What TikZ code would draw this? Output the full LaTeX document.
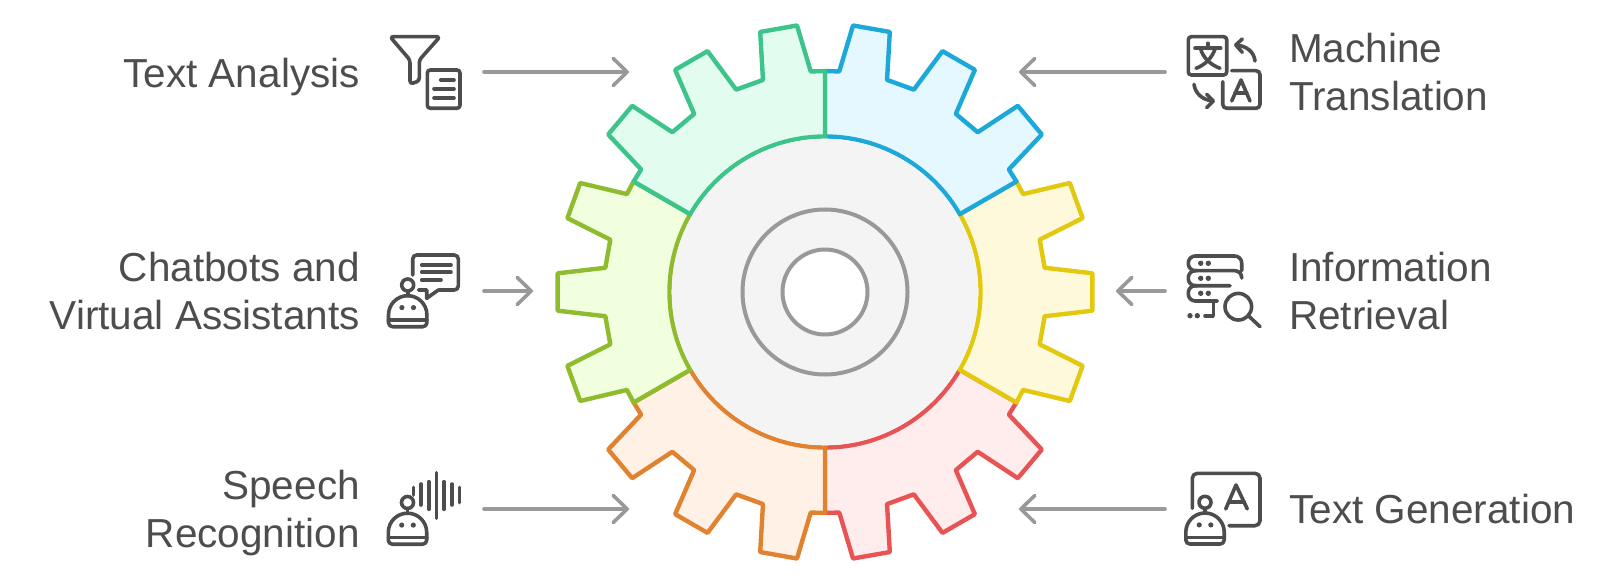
\documentclass[tikz,border=0pt]{standalone}
\usepackage{fontspec}
\setmainfont{Liberation Sans}
\usetikzlibrary{arrows.meta}

\definecolor{labelgray}{HTML}{4D4D4D}
\definecolor{linegray}{HTML}{999999}
\definecolor{hubgray}{HTML}{F4F4F4}
\definecolor{greenline}{HTML}{3CC48A}
\definecolor{greenfill}{HTML}{E2FDF0}
\definecolor{blueline}{HTML}{1CA8D8}
\definecolor{bluefill}{HTML}{E6F8FF}
\definecolor{yellowline}{HTML}{E3C810}
\definecolor{yellowfill}{HTML}{FFF9DC}
\definecolor{oliveline}{HTML}{8FBC2F}
\definecolor{olivefill}{HTML}{F2FFDE}
\definecolor{orangeline}{HTML}{E08330}
\definecolor{orangefill}{HTML}{FFF1E6}
\definecolor{redline}{HTML}{E85454}
\definecolor{redfill}{HTML}{FFECEC}

\tikzset{
  icon/.style={draw=labelgray,line width=3.6pt,line cap=round,line join=round},
  dot/.style={fill=labelgray},
  robotpic/.pic={
    \draw[icon] (0,0) circle (6);
    \draw[icon] (0,6) -- (0,10.7);
    \draw[icon] (-19.2,29.9) arc[start angle=180,end angle=360,radius=19.2] -- (19.2,37.7) arc[start angle=0,end angle=90,radius=4] -- (-15.2,41.7) arc[start angle=90,end angle=180,radius=4] -- cycle;
    \draw[icon] (-19.2,35) -- (19.2,35);
    \fill[dot] (-5.8,22.6) circle (2.6);
    \fill[dot] (5.8,22.6) circle (2.6);
  }
}

\newcommand{\gearsector}[3]{
  \draw[fill=#1,draw=#2,line width=4.4pt,line join=round]
    (#3:221)
    \foreach \t in {10,30,50} {
      -- ({#3+\t-6.3}:221) -- ({#3+\t-4}:268) -- ({#3+\t+4}:268) -- ({#3+\t+6.3}:221)
    }
    -- ({#3+60}:221) -- ({#3+60}:155.5)
    arc[start angle=#3+60,end angle=#3,radius=155.5] -- cycle;
}

\begin{document}
\begin{tikzpicture}[x=1pt,y=-1pt]

  \useasboundingbox (0,0) rectangle (1600,585);

  \begin{scope}[shift={(825,292)},y=1pt]
    \gearsector{redfill}{redline}{-90}
    \gearsector{orangefill}{orangeline}{210}
    \gearsector{yellowfill}{yellowline}{-30}
    \gearsector{olivefill}{oliveline}{150}
    \gearsector{bluefill}{blueline}{30}
    \gearsector{greenfill}{greenline}{90}

    \draw[draw=none,fill=hubgray] (0,0) circle (153.3);
    \draw[draw=linegray,line width=4pt] (0,0) circle (82.5);
    \draw[draw=linegray,line width=4pt,fill=white] (0,0) circle (42.5);
  \end{scope}

  \begin{scope}[every node/.style={text=labelgray,font=\fontsize{40.5}{48}\selectfont,inner sep=0pt}]
    \node[anchor=east,align=right] (textanalysis) at (360,77) {Text Analysis};
    \node[anchor=east,align=right] (chatbots) at (360,291) {Chatbots and\\Virtual Assistants};
    \node[anchor=east,align=right] (speech) at (360,513) {Speech\\Recognition};
    \node[anchor=west,align=left] (translation) at (1289,72) {Machine\\Translation};
    \node[anchor=west,align=left] (retrieval) at (1289,291) {Information\\Retrieval};
    \node[anchor=west,align=left] (generation) at (1289,509) {Text Generation};
  \end{scope}

  \coordinate (a1) at (484,72);
  \coordinate (b1) at (629,72);
  \coordinate (a2) at (484,291);
  \coordinate (b2) at (533,291);
  \coordinate (a3) at (484,509);
  \coordinate (b3) at (629,509);
  \coordinate (a4) at (1165,72);
  \coordinate (b4) at (1019,72);
  \coordinate (a5) at (1165,291);
  \coordinate (b5) at (1116,291);
  \coordinate (a6) at (1165,509);
  \coordinate (b6) at (1019,509);

  \begin{scope}[every edge/.style={draw=linegray,line width=3.6pt,line cap=round,-{Straight Barb[length=14pt,width=27pt,round]}}]
    \path (a1) edge (b1);
    \path (a2) edge (b2);
    \path (a3) edge (b3);
    \path (a4) edge (b4);
    \path (a5) edge (b5);
    \path (a6) edge (b6);
  \end{scope}

  % funnel and page
  \draw[icon,rounded corners=3] (390,36.7) -- (440,36.7) -- (419.3,60) -- (419.3,81) -- (410,84) -- (410,60) -- cycle;
  \draw[icon,rounded corners=3] (427.3,70) rectangle (460,108.3);
  \draw[icon] (440.7,80) -- (454,80);
  \draw[icon] (434,89) -- (454,89);
  \draw[icon] (434,98) -- (454,98);

  % chat robot
  \pic at (407.7,285) {robotpic};
  \draw[icon,rounded corners=4] (412.7,275) -- (412.7,255) -- (458.3,255) -- (458.3,290) -- (438.3,290);
  \draw[icon] (438.3,290) -- (426.7,298.3) -- (426.7,290) -- (418.3,290);
  \draw[icon] (421.7,265) -- (451,265);
  \draw[icon] (421.7,272.3) -- (451,272.3);
  \draw[icon] (421.7,280) -- (441,280);

  % speech robot
  \pic at (407.5,502.5) {robotpic};
  \draw[icon] (413.3,487.3) -- (413.3,495);
  \draw[icon] (421,484) -- (421,505);
  \draw[icon] (428.7,481.7) -- (428.7,509.3);
  \draw[icon] (436.3,472.7) -- (436.3,518.3);
  \draw[icon] (444,481.7) -- (444,509.3);
  \draw[icon] (451.7,484) -- (451.7,505);
  \draw[icon] (459.3,487.3) -- (459.3,502.7);

  % translation
  \draw[icon,rounded corners=3] (1188.3,36.7) rectangle (1226.7,75);
  \draw[icon] (1195,48.3) -- (1220.7,48.3);
  \draw[icon] (1207.7,43.3) -- (1207.7,48.3);
  \draw[icon] (1215,49) .. controls (1212,58) and (1205,65) .. (1196,68.3);
  \draw[icon] (1200.7,49) .. controls (1203,58) and (1211,65) .. (1220,68.3);
  \draw[icon] (1255,61) .. controls (1254,52) and (1247,46) .. (1236,45);
  \draw[icon] (1242.3,39) -- (1235.7,45) -- (1242.3,52.3);
  \draw[icon,rounded corners=4] (1231.7,70.7) -- (1260,70.7) -- (1260,108.3) -- (1222.7,108.3) -- (1222.7,81.7);
  \draw[icon] (1231.7,101) -- (1241,80) -- (1250,101);
  \draw[icon] (1235,93.3) -- (1246.7,93.3);
  \draw[icon] (1194,84.3) .. controls (1195,93) and (1202,100) .. (1213,101);
  \draw[icon] (1206.7,94.3) -- (1213.3,101) -- (1206.7,107.7);

  % retrieval
  \draw[icon,rounded corners=7] (1241.7,278) -- (1241.7,270.7) -- (1188.3,270.7) -- (1188.3,256) -- (1241.7,256) -- (1241.7,270.7);
  \draw[icon,rounded corners=7] (1197,270.7) -- (1188.3,270.7) -- (1188.3,285.7) -- (1230,285.7);
  \draw[icon,rounded corners=7] (1197,285.7) -- (1188.3,285.7) -- (1188.3,301) -- (1217.3,301);
  \draw[icon] (1213.3,301) -- (1213.3,315.7) -- (1205,315.7);
  \foreach \y in {263.3,278.3,293.3} {
    \fill[dot] (1200.7,\y) circle (2.7);
    \fill[dot] (1208.3,\y) circle (2.7);
  }
  \fill[dot] (1190,315.7) circle (2.7);
  \fill[dot] (1197.3,315.7) circle (2.7);
  \draw[icon] (1238.3,306.7) circle (13.3);
  \draw[icon] (1248.3,315.7) -- (1260,326.7);

  % generation
  \draw[icon,rounded corners=5] (1192.3,508.3) -- (1192.3,473.3) -- (1260,473.3) -- (1260,525.7) -- (1229,525.7);
  \draw[icon] (1225.7,509) -- (1236,485) -- (1247.3,509);
  \draw[icon] (1229,501.7) -- (1244,501.7);
  \pic at (1205,502.3) {robotpic};

\end{tikzpicture}
\end{document}
